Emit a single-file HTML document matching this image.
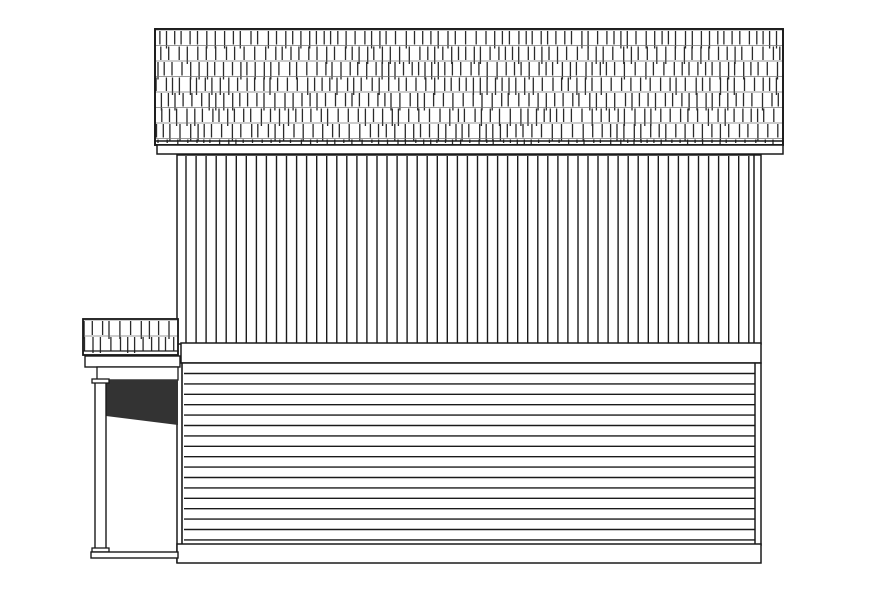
<!DOCTYPE html>
<html><head><meta charset="utf-8"><style>
html,body{margin:0;padding:0;background:#fff;}
svg{display:block}
</style></head><body>
<svg id="s" width="891" height="593" viewBox="0 0 891 593" xmlns="http://www.w3.org/2000/svg">
<rect width="891" height="593" fill="#fff"/>
<g id="g" stroke="#1a1a1a" fill="none"></g>
</svg>
<script>
var g=document.getElementById('g'),o='';
function L(x1,y1,x2,y2,w,c){o+='<line x1="'+x1+'" y1="'+y1+'" x2="'+x2+'" y2="'+y2+'" stroke-width="'+(w||1)+'"'+(c?' stroke="'+c+'"':'')+'/>';}
function R(x,y,w,h,sw,f){o+='<rect x="'+x+'" y="'+y+'" width="'+w+'" height="'+h+'" stroke-width="'+(sw||1.5)+'" fill="'+(f||'none')+'"/>';}
var seed=7;function rnd(){seed=(seed*9301+49297)%233280;return seed/233280;}
function shingles(x0,y0,x1,y1,rh){
  for(var y=y0;y<y1-1;y+=rh){
    var h=Math.min(rh,y1-y);
    L(x0,y,x1,y,0.7,'#777');
    var x=x0+rnd()*8;
    while(x<x1-2){
      var ext=rnd()<0.35?4:0;
      L(x.toFixed(1),y+1,x.toFixed(1),Math.min(y+h-1+ext,y1),1.3,'#2a2a2a');
      x+=6+rnd()*5;
    }
  }
}
// main roof
R(155,29,628,116,1.8,'#fff');
shingles(156,30,782,144,15.5);
R(155,29,628,116,1.8);
L(155,141,783,141,1.5);
R(157,145,626,9,1.5,'#fff');
// upper wall board & batten
R(177,155,584,189,1.5,'#fff');
for(var x=186;x<757;x+=10.05){L(x.toFixed(1),156,x.toFixed(1),343,1.4);}
L(754,155,754,343,1.5);
// band
R(181,343,580,20,1.5,'#fff');
// lap siding
R(182,363,579,182,1.5,'#fff');
for(var y=373.5;y<545;y+=10.4){L(184,y.toFixed(1),755,y.toFixed(1),1.4);}
L(755,363,755,545,1.5);
L(177,363,177,563,1.5);L(182,363,182,545,1.2);
// bottom band
R(177,544,584,19,1.5,'#fff');
// porch roof
R(83,319,95,36,1.6,'#fff');
shingles(84,320,177,353,16);
R(83,319,95,36,1.6);
L(83,351,178,351,1.2);
R(85,356,95,11,1.4,'#fff');
R(97,367,81,13,1.3,'#fff');
// shadow
o+='<polygon points="106,380 178,380 178,425 106,416" fill="#333" stroke="none"/>';
// column
R(95,382,11,168,1.4,'#fff');
R(92,379,17,4,1.3,'#fff');
R(92,548,17,4,1.3,'#fff');
R(91,552,87,6,1.4,'#fff');
g.innerHTML=o;
</script>
</body></html>
